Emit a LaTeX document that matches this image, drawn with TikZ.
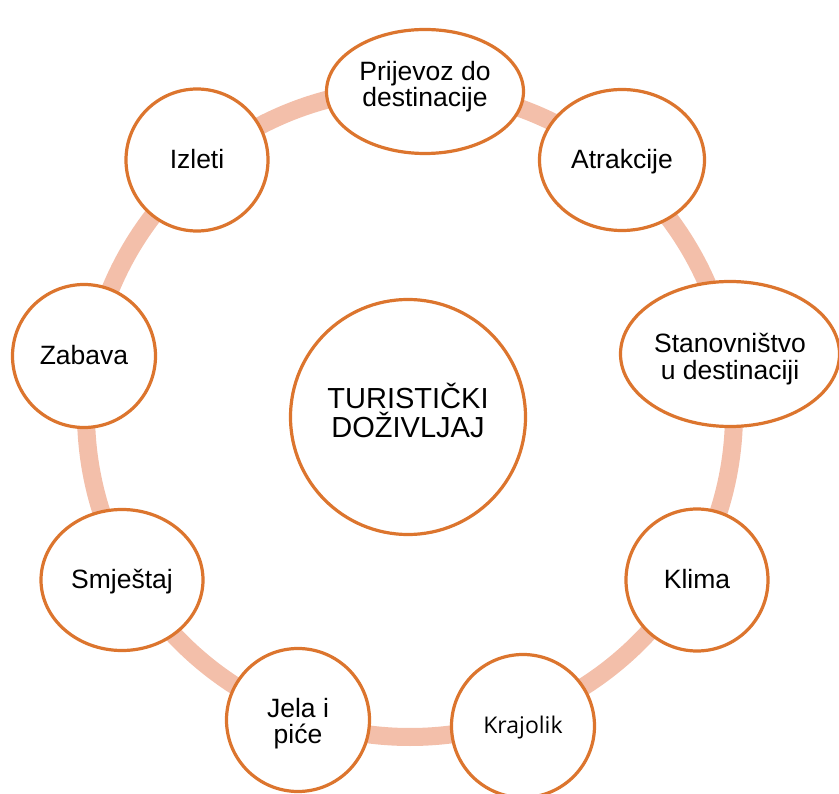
\documentclass[tikz,border=0pt]{standalone}
\usepackage{fontspec}
\setmainfont{Liberation Sans}
\newfontfamily\osans{Open Sans}
\usetikzlibrary{shapes.geometric}
\definecolor{ringc}{RGB}{243,191,170}
\definecolor{edgec}{RGB}{220,117,46}
\begin{document}
\begin{tikzpicture}[x=1pt,y=-1pt,
  ringline/.style={draw=ringc,line width=18pt},
  bub/.style={ellipse,draw=edgec,line width=3.2pt,fill=white,inner sep=0pt,outer sep=0pt},
  lbl/.style={font=\fontsize{26.5}{26}\selectfont,align=center,inner sep=0pt},
  one/.style={lbl,text height=19pt,text depth=0pt,yshift=1pt}]
\useasboundingbox (0,0) rectangle (839,794);
\coordinate (o) at (410,413);
\draw[ringline] (o) circle[radius=324pt];

\node[bub,minimum width=197pt,minimum height=124pt] (prij) at (425,91.5) {};
\node[lbl,yshift=5pt] (tprij) at (prij.center) {Prijevoz do\\destinacije};

\node[bub,minimum width=165pt,minimum height=141pt] (atr) at (622,160) {};
\node[one] (tatr) at (atr.center) {Atrakcije};

\node[bub,minimum width=219pt,minimum height=145pt] (stan) at (730,354) {};
\node[lbl,font=\fontsize{26.5}{27}\selectfont,yshift=-5.6pt] (tstan) at (stan.center) {Stanovništvo\\u destinaciji};

\node[bub,minimum width=142pt,minimum height=142pt] (klima) at (697,580) {};
\node[one] (tklima) at (klima.center) {Klima};

\node[bub,minimum width=143pt,minimum height=143pt] (kraj) at (523,726) {};
\node[inner sep=0pt,font=\osans\fontsize{23}{23}\selectfont,text height=16.4pt,text depth=0pt,yshift=1pt] (tkraj) at (kraj.center) {Krajolik};

\node[bub,minimum width=143pt,minimum height=143pt] (jela) at (298,720) {};
\node[lbl,yshift=-3.8pt] (tjela) at (jela.center) {Jela i\\piće};

\node[bub,minimum width=162pt,minimum height=141pt] (smj) at (122,580) {};
\node[one] (tsmj) at (smj.center) {Smještaj};

\node[bub,minimum width=143pt,minimum height=143pt] (zab) at (84,356) {};
\node[one] (tzab) at (zab.center) {Zabava};

\node[bub,minimum width=142pt,minimum height=142pt] (izl) at (197,160) {};
\node[one] (tizl) at (izl.center) {Izleti};

\node[bub,minimum width=235pt,minimum height=235pt] (cent) at (408,417) {};
\node[lbl,font=\fontsize{29}{29}\selectfont,yshift=6.2pt] (tcent) at (cent.center) {TURISTIČKI\\DOŽIVLJAJ};
\end{tikzpicture}
\end{document}
